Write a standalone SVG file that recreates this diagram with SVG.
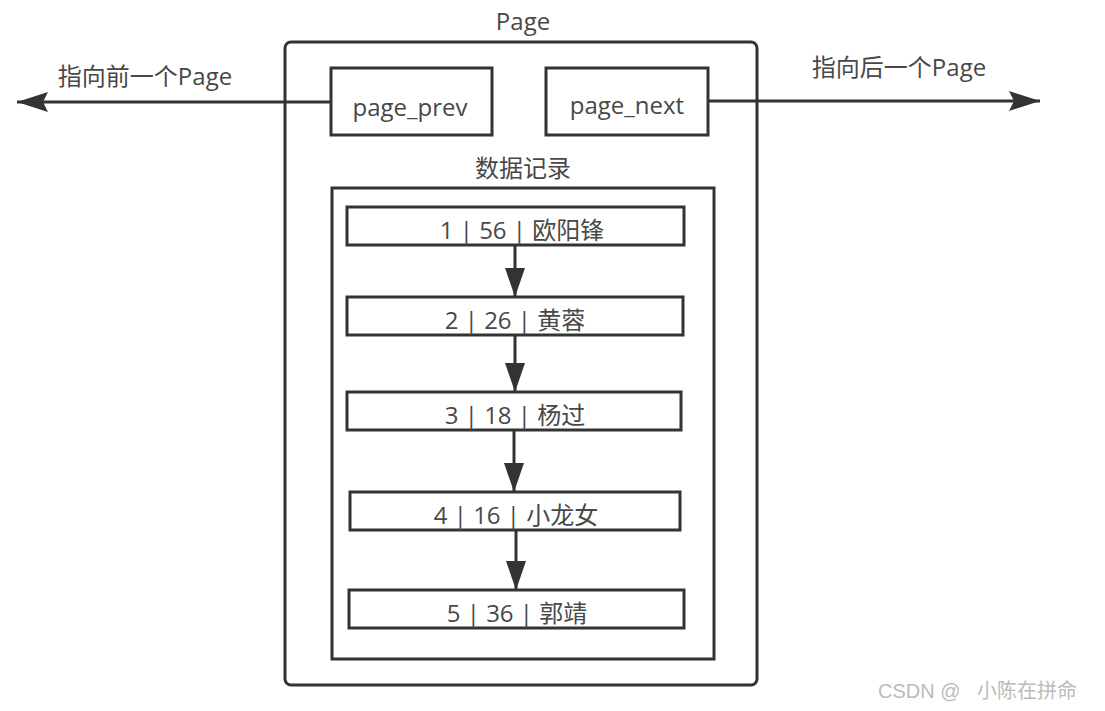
<svg xmlns="http://www.w3.org/2000/svg" width="1105" height="711" viewBox="0 0 1105 711">
<style>
.box{fill:#fff;stroke:#333;stroke-width:3}
.t{font-family:"Open Sans","Noto Sans CJK SC",sans-serif;font-size:24px;fill:#484848;text-anchor:middle}
.c{stroke:#333;stroke-width:3;fill:none}
.wm{font-family:"Liberation Sans","Noto Sans CJK SC",sans-serif;font-size:20px;fill:#bbb}
</style>
<defs>
<marker id="ah" markerUnits="userSpaceOnUse" markerWidth="32" markerHeight="20" refX="31" refY="10" orient="auto">
<path d="M0,0 L31,10 L0,20 L5,10 Z" fill="#333"/>
</marker>
<marker id="av" markerUnits="userSpaceOnUse" markerWidth="30" markerHeight="20" refX="29" refY="10" orient="auto">
<path d="M0,0 L29,10 L0,20 Z" fill="#333"/>
</marker>
</defs>
<g id="page">
<rect class="box" x="285" y="42" width="472" height="643" rx="6"/>
<text class="t" x="523" y="30">Page</text>
</g>
<g id="page_prev">
<rect class="box" x="331" y="68" width="161" height="67"/>
<text class="t" x="410" y="116">page_prev</text>
</g>
<g id="page_next">
<rect class="box" x="546" y="68" width="162" height="67"/>
<text class="t" x="627" y="114">page_next</text>
</g>
<g id="records">
<rect class="box" x="332" y="188" width="382" height="471"/>
<text class="t" x="523" y="177">数据记录</text>
</g>
<g id="r1"><rect class="box" x="347" y="207" width="337" height="38"/><text class="t" x="522" y="239">1 | 56 | 欧阳锋</text></g>
<g id="r2"><rect class="box" x="347" y="297" width="336" height="38"/><text class="t" x="515" y="329">2 | 26 | 黄蓉</text></g>
<g id="r3"><rect class="box" x="347" y="392" width="334" height="38"/><text class="t" x="515" y="424">3 | 18 | 杨过</text></g>
<g id="r4"><rect class="box" x="350" y="492" width="330" height="38"/><text class="t" x="516" y="524">4 | 16 | 小龙女</text></g>
<g id="r5"><rect class="box" x="349" y="590" width="335" height="38"/><text class="t" x="517" y="622">5 | 36 | 郭靖</text></g>
<g id="connectors">
<line class="c" x1="331" y1="102" x2="17" y2="102" marker-end="url(#ah)"/>
<line class="c" x1="708" y1="101" x2="1040" y2="101" marker-end="url(#ah)"/>
<line class="c" x1="515" y1="245" x2="515" y2="297" marker-end="url(#av)"/>
<line class="c" x1="515" y1="335" x2="515" y2="392" marker-end="url(#av)"/>
<line class="c" x1="514" y1="430" x2="514" y2="492" marker-end="url(#av)"/>
<line class="c" x1="516" y1="530" x2="516" y2="590" marker-end="url(#av)"/>
<text class="t" x="145" y="85">指向前一个Page</text>
<text class="t" x="899" y="76">指向后一个Page</text>
</g>
<text class="wm" x="878" y="698">CSDN @</text>
<text class="wm" x="977" y="698">小陈在拼命</text>
</svg>
